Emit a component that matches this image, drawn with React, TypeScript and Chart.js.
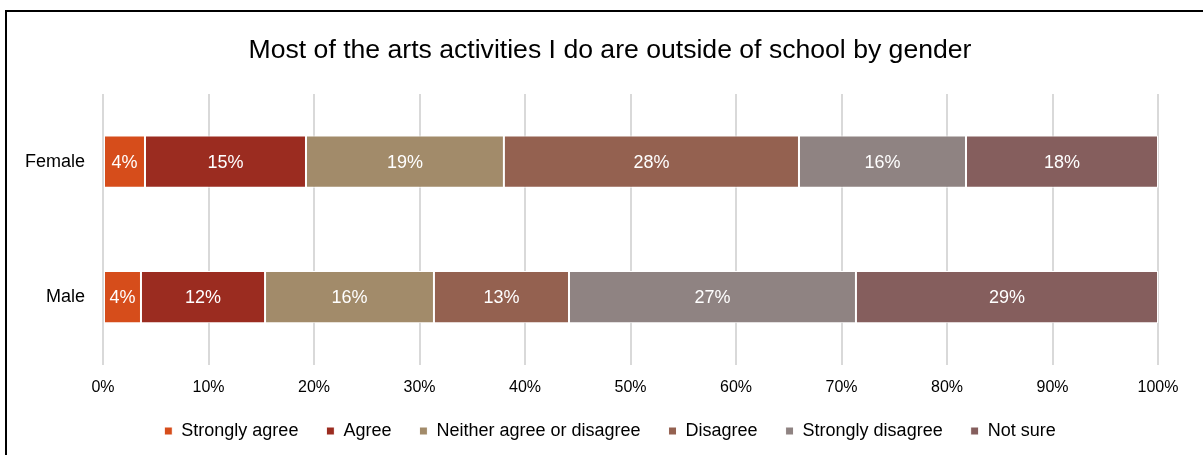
import React, { useEffect, useRef } from "react";
import { Chart, registerables } from "chart.js";

Chart.register(...registerables);

const categories = ["Female", "Male"];
const seriesNames = [
  "Strongly agree",
  "Agree",
  "Neither agree or disagree",
  "Disagree",
  "Strongly disagree",
  "Not sure",
];
const stronglyAgree = [3.98, 3.6];
const agree = [15.26, 11.76];
const neither = [18.76, 16.01];
const disagree = [27.97, 12.8];
const stronglyDisagree = [15.83, 27.2];
const notSure = [18.2, 28.63];
const seriesColors = ["#D64D1B", "#9B2C20", "#A28B6A", "#946150", "#8F8382", "#855E5D"];
const xTicks = [0, 10, 20, 30, 40, 50, 60, 70, 80, 90, 100];
const titleText = "Most of the arts activities I do are outside of school by gender";

const FONT = "'Liberation Sans', Arial, sans-serif";
const PAD_LEFT = 62;

const labelPlugin = {
  id: "segLabels",
  afterDatasetsDraw(chart: any) {
    const ctx = chart.ctx;
    ctx.save();
    ctx.fillStyle = "#ffffff";
    ctx.font = `18px ${FONT}`;
    ctx.textAlign = "center";
    ctx.textBaseline = "middle";
    chart.data.datasets.forEach((ds: any, di: number) => {
      const meta = chart.getDatasetMeta(di);
      meta.data.forEach((el: any, i: number) => {
        const v = ds.data[i];
        const cx = (el.x + el.base) / 2;
        ctx.fillText(Math.round(v) + "%", cx, el.y + 1);
      });
    });
    // category labels on the y axis
    const yScale = chart.scales.y;
    ctx.fillStyle = "#000";
    ctx.textAlign = "right";
    chart.data.labels.forEach((lab: string, i: number) => {
      ctx.fillText(lab, chart.chartArea.left - 18, yScale.getPixelForValue(i));
    });
    ctx.restore();
  },
};

export default function App() {
  const ref = useRef<HTMLCanvasElement>(null);
  useEffect(() => {
    if (!ref.current) return;
    const all = [stronglyAgree, agree, neither, disagree, stronglyDisagree, notSure];
    const chart = new Chart(ref.current, {
      type: "bar",
      data: {
        labels: categories,
        datasets: all.map((d, i) => ({
          label: seriesNames[i],
          data: d,
          backgroundColor: seriesColors[i],
          borderColor: "#ffffff",
          borderWidth: 1,
          borderSkipped: false,
          categoryPercentage: 1,
          barPercentage: 0.385,
        })),
      },
      options: {
        indexAxis: "y",
        responsive: false,
        animation: false,
        devicePixelRatio: 1,
        layout: { padding: { left: PAD_LEFT, right: 45, top: 0, bottom: 5 } },
        plugins: {
          title: {
            display: true,
            text: titleText,
            color: "#000",
            font: { family: FONT, size: 26.6, weight: "normal" },
            padding: { top: 35, bottom: 27 },
          },
          legend: {
            position: "bottom",
            labels: {
              boxWidth: 8,
              boxHeight: 8,
              padding: 28,
              color: "#000",
              font: { family: FONT, size: 18 },
            },
          },
          tooltip: { enabled: false },
        },
        scales: {
          x: {
            stacked: true,
            min: 0,
            max: 100,
            afterBuildTicks: (scale: any) => {
              scale.ticks = xTicks.map((v) => ({ value: v }));
            },
            afterFit: (scale: any) => {
              scale.height = scale.height - 16;
            },
            ticks: {
              callback: (v: any) => v + "%",
              color: "#000",
              padding: 13,
              maxRotation: 0,
              font: { family: FONT, size: 16 },
            },
            grid: { color: "#D9D9D9", lineWidth: 2, drawTicks: false },
            border: { display: false },
          },
          y: {
            stacked: true,
            afterFit: (scale: any) => {
              scale.width = 103 - PAD_LEFT;
            },
            ticks: { display: false },
            grid: { display: false, drawTicks: false },
            border: { display: false },
          },
        },
      },
      plugins: [labelPlugin],
    } as any);
    return () => chart.destroy();
  }, []);

  return (
    <div
      style={{
        position: "fixed",
        left: 0,
        top: 0,
        width: 1203,
        height: 455,
        overflow: "hidden",
        background: "#fff",
      }}
    >
      <canvas ref={ref} width={1203} height={455} style={{ position: "absolute", left: 0, top: 0 }} />
      <div
        style={{
          position: "absolute",
          left: 5,
          top: 10,
          width: 1300,
          height: 600,
          borderLeft: "2px solid #000",
          borderTop: "2px solid #000",
          pointerEvents: "none",
        }}
      />
    </div>
  );
}
